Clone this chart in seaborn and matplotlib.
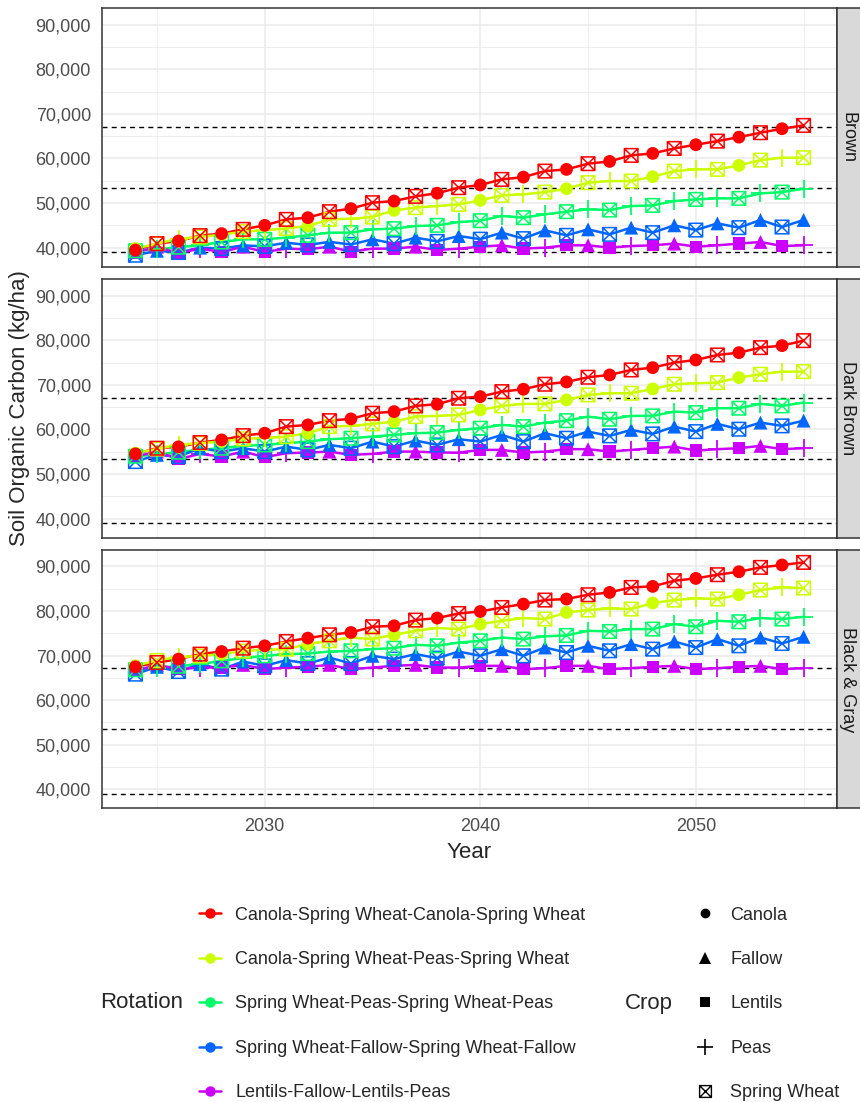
import matplotlib
matplotlib.use("Agg")
import matplotlib.pyplot as plt
from matplotlib.lines import Line2D
from matplotlib.markers import MarkerStyle
from matplotlib.path import Path
from matplotlib.ticker import FuncFormatter, MultipleLocator
import pandas as pd
import seaborn as sns

sns.set_style("white")
plt.rcParams["font.family"] = ["Liberation Sans", "DejaVu Sans"]

# ---------------------------------------------------------------- data
years = list(range(2024, 2056))
zones = ["Brown", "Dark Brown", "Black & Gray"]
rotations = [
    "Canola-Spring Wheat-Canola-Spring Wheat",
    "Canola-Spring Wheat-Peas-Spring Wheat",
    "Spring Wheat-Peas-Spring Wheat-Peas",
    "Spring Wheat-Fallow-Spring Wheat-Fallow",
    "Lentils-Fallow-Lentils-Peas",
]
rotation_colors = ["#FF0000", "#CCFF00", "#00FF66", "#0066FF", "#CC00FF"]
crops = ["Canola", "Fallow", "Lentils", "Peas", "Spring Wheat"]
baseline_soc = [39000, 53450, 67100]

# Soil organic carbon (kg/ha), one list per zone and rotation, 2024-2055
brown_cscs = [39460, 40890, 41480, 42690, 43140, 44100, 45000, 46340, 46720, 48060, 48740,
              50080, 50440, 51500, 52200, 53440, 54050, 55300, 55810, 57160, 57540, 58820,
              59330, 60680, 61120, 62240, 63070, 63880, 64770, 65760, 66660, 67400]
brown_csps = [39800, 40900, 42000, 42400, 42900, 43600, 43900, 44300, 44840, 46340, 46500,
              46860, 48350, 48960, 49320, 49700, 50600, 51710, 51940, 52450, 53200, 54560,
              54920, 54920, 55900, 57160, 57540, 57540, 58430, 59620, 60160, 60160]
brown_spsp = [39300, 39600, 40100, 40520, 41270, 41860, 41860, 42240, 42760, 43360, 43360,
              44100, 44260, 44840, 45000, 45730, 46040, 47080, 46720, 47460, 48060, 48580,
              48420, 49320, 49470, 50440, 50820, 51040, 51040, 52160, 52450, 53200]
brown_sfsf = [38300, 39300, 38900, 40000, 39800, 40500, 40300, 41100, 40600, 41300, 40700,
              41860, 40900, 42240, 41400, 42600, 41900, 43360, 42020, 43870, 42760, 44100,
              42980, 44480, 43360, 45000, 43940, 45440, 44480, 46200, 44620, 46200]
brown_lflp = [38880, 40220, 38720, 39780, 39020, 40220, 39020, 39780, 39620, 40220, 39100,
              39780, 39780, 40220, 39460, 39780, 40220, 40520, 39780, 40000, 40520, 40520,
              40000, 40360, 40520, 40900, 40220, 40520, 40900, 41270, 40360, 40520]

darkbrown_cscs = [54520, 55790, 56100, 57050, 57650, 58610, 59150, 60630, 61010, 61970, 62360,
                  63630, 63990, 65270, 65650, 66990, 67350, 68470, 69010, 70130, 70640, 71700,
                  72210, 73330, 73850, 74970, 75570, 76690, 77210, 78330, 78780, 79900]
darkbrown_csps = [54700, 55600, 56600, 56900, 57300, 57900, 58100, 58390, 59150, 60630, 60790,
                  61240, 61760, 62870, 63030, 63250, 64370, 65270, 65720, 65720, 66610, 67730,
                  68110, 68110, 69080, 70130, 70350, 70490, 71610, 72370, 72960, 72960]
darkbrown_spsp = [54000, 54400, 54900, 55410, 55790, 56310, 56530, 56910, 57270, 57810, 58030,
                  58390, 58770, 59150, 59290, 59890, 60270, 61010, 60630, 61530, 61970, 62870,
                  62290, 63030, 63030, 63990, 63770, 64750, 64750, 65720, 65270, 66010]
darkbrown_sfsf = [52790, 54290, 53910, 55790, 55030, 55790, 55030, 56150, 55410, 56530, 55790,
                  57270, 56150, 57500, 56530, 57810, 57270, 58770, 57270, 59150, 58030, 59510,
                  58550, 59890, 58990, 60630, 59510, 61240, 60050, 61530, 60790, 61970]
darkbrown_lflp = [53910, 55030, 53330, 54520, 53910, 55030, 53780, 54670, 54810, 55030, 54290,
                  54520, 55030, 55030, 54810, 54810, 55410, 55410, 54810, 55030, 55570, 55570,
                  55030, 55410, 55790, 56150, 55250, 55570, 55790, 56310, 55570, 55790]

blackgray_cscs = [67460, 68420, 69190, 70310, 70890, 71650, 72170, 73140, 73900, 74640, 75160,
                  76440, 76660, 77940, 78390, 79420, 79870, 80770, 81530, 82430, 82660, 83620,
                  84140, 85260, 85490, 86760, 87280, 88110, 88780, 89750, 90290, 90870]
blackgray_csps = [67700, 68900, 69700, 69900, 70300, 71000, 71300, 71430, 72550, 73290, 74030,
                  73680, 74640, 75540, 76150, 75920, 77040, 77780, 78390, 78170, 79650, 80190,
                  80540, 80410, 81760, 82430, 82790, 82660, 83620, 84680, 85260, 85120]
blackgray_spsp = [66800, 67300, 67600, 68060, 68800, 69410, 69930, 70310, 70440, 70890, 71050,
                  71430, 71650, 72400, 72170, 72910, 73290, 74030, 73680, 74300, 74500, 75540,
                  75390, 75920, 75920, 77040, 76440, 77780, 77560, 78390, 78170, 78680]
blackgray_sfsf = [65820, 67460, 66400, 68060, 66940, 68650, 67680, 68960, 68200, 69540, 68200,
                  69930, 69190, 70310, 69410, 70890, 69930, 71430, 69930, 71790, 70670, 72170,
                  71050, 72550, 71430, 73140, 71790, 73680, 72170, 74030, 72690, 74190]
blackgray_lflp = [66560, 67900, 66940, 67300, 67300, 67900, 66940, 67300, 67460, 67900, 66940,
                  67300, 67680, 67900, 67300, 67300, 67680, 67680, 66940, 67160, 67680, 67680,
                  66940, 67160, 67460, 67680, 66940, 67160, 67460, 67680, 66940, 67160]

zone_series = {
    "Brown": [brown_cscs, brown_csps, brown_spsp, brown_sfsf, brown_lflp],
    "Dark Brown": [darkbrown_cscs, darkbrown_csps, darkbrown_spsp, darkbrown_sfsf, darkbrown_lflp],
    "Black & Gray": [blackgray_cscs, blackgray_csps, blackgray_spsp, blackgray_sfsf, blackgray_lflp],
}

# long table: the crop grown each year follows the 4-year rotation sequence
rows = []
for zone in zones:
    for rot, values in zip(rotations, zone_series[zone]):
        sequence = [c.strip() for c in rot.split("-")]
        for i, (yr, v) in enumerate(zip(years, values)):
            rows.append({"Zone": zone, "Rotation": rot, "Crop": sequence[i % 4],
                         "Year": yr, "SOC": v})
df = pd.DataFrame(rows)

# ---------------------------------------------------------------- styling
boxed_x = MarkerStyle(
    Path([(-1, -1), (1, -1), (1, 1), (-1, 1), (-1, -1), (1, 1), (-1, 1), (1, -1)],
         [Path.MOVETO, Path.LINETO, Path.LINETO, Path.LINETO, Path.CLOSEPOLY,
          Path.LINETO, Path.MOVETO, Path.LINETO]),
    fillstyle="none")
crop_marker = {"Canola": "o", "Fallow": "^", "Lentils": "s", "Peas": "+", "Spring Wheat": boxed_x}
crop_size = {"Canola": 85, "Fallow": 100, "Lentils": 78, "Peas": 165, "Spring Wheat": 95}
crop_lw = {"Canola": 0, "Fallow": 0, "Lentils": 0, "Peas": 1.3, "Spring Wheat": 1.1}
color_of = dict(zip(rotations, rotation_colors))

W, H = 860, 1102
fig = plt.figure(figsize=(W / 100, H / 100), dpi=100)


def px_axes(left, top, right, bottom):
    return fig.add_axes([left / W, 1 - bottom / H, (right - left) / W, (bottom - top) / H])


panel_left, panel_right = 102, 837
panel_tops = [8.3, 279.3, 550.0]
panel_h = 258.3
grid_col = "#EBEBEB"
frame_col = "#333333"

for k, zone in enumerate(zones):
    top = panel_tops[k]
    ax = px_axes(panel_left, top, panel_right, top + panel_h)
    sub = df[df["Zone"] == zone]

    ax.set_axisbelow(True)
    ax.xaxis.set_major_locator(MultipleLocator(10))
    ax.xaxis.set_minor_locator(MultipleLocator(5))
    ax.yaxis.set_major_locator(MultipleLocator(10000))
    ax.yaxis.set_minor_locator(MultipleLocator(5000))
    ax.grid(which="major", color=grid_col, lw=1.15)
    ax.grid(which="minor", color=grid_col, lw=0.6)

    for yb in baseline_soc:
        ax.axhline(yb, color="black", lw=1.0, ls=(0, (3.6, 3.0)), zorder=1.5)

    sns.lineplot(data=sub, x="Year", y="SOC", hue="Rotation", hue_order=rotations,
                 palette=rotation_colors, linewidth=1.8, errorbar=None, legend=False,
                 ax=ax, zorder=2)

    for rot in rotations[::-1]:
        for crop in crops:
            pts = sub[(sub["Rotation"] == rot) & (sub["Crop"] == crop)]
            if pts.empty:
                continue
            kws = dict(marker=crop_marker[crop], s=crop_size[crop], color=color_of[rot],
                       linewidth=crop_lw[crop], legend=False, ax=ax, zorder=3)
            if crop_lw[crop] == 0:
                kws["edgecolor"] = "none"
            sns.scatterplot(data=pts, x="Year", y="SOC", **kws)

    ax.set_xlim(2022.45, 2056.55)
    ax.set_ylim(35750, 93650)
    ax.yaxis.set_major_formatter(FuncFormatter(lambda v, p: f"{v:,.0f}"))
    ax.set_xlabel("")
    ax.set_ylabel("")
    for sp in ax.spines.values():
        sp.set_color(frame_col)
        sp.set_linewidth(1.1)
    ax.tick_params(which="major", length=4, width=1.1, color=frame_col,
                   labelsize=13, labelcolor="#4D4D4D", pad=4)
    ax.tick_params(which="minor", length=0)
    if k < 2:
        ax.tick_params(axis="x", which="both", bottom=False, labelbottom=False)
    else:
        ax.tick_params(axis="x", pad=3.3)

    strip = px_axes(panel_right, top, 861, top + panel_h)
    strip.set_facecolor("#D9D9D9")
    strip.set_xticks([])
    strip.set_yticks([])
    for sp in strip.spines.values():
        sp.set_color(frame_col)
        sp.set_linewidth(1.1)
    strip.text(0.45, 0.5, zone, rotation=-90, ha="center", va="center",
               fontsize=13, color="#1A1A1A", transform=strip.transAxes)

fig.text(20 / W, 1 - 408 / H, "Soil Organic Carbon (kg/ha)", rotation=90,
         ha="center", va="center", fontsize=16)
fig.text((panel_left + panel_right) / 2 / W, 1 - 852 / H, "Year",
         ha="center", va="center", fontsize=16)

# ---------------------------------------------------------------- legends
rot_handles = [Line2D([0], [0], color=c, lw=1.8, marker="o", markersize=7.5,
                      markeredgewidth=0) for c in rotation_colors]
crop_handles = [
    Line2D([0], [0], color="black", lw=0, marker="o", markersize=7, markeredgewidth=0),
    Line2D([0], [0], color="black", lw=0, marker="^", markersize=8, markeredgewidth=0),
    Line2D([0], [0], color="black", lw=0, marker="s", markersize=7, markeredgewidth=0),
    Line2D([0], [0], color="black", lw=0, marker="+", markersize=12, markeredgewidth=1.2),
    Line2D([0], [0], color="black", lw=0, marker=boxed_x, markersize=8.5,
           markeredgewidth=1.0, fillstyle="none"),
]
leg_kw = dict(frameon=False, fontsize=13, handlelength=1.2, handletextpad=0.8,
              labelspacing=1.52, borderpad=0, borderaxespad=0, loc="center left")
leg1 = fig.legend(rot_handles, rotations, bbox_to_anchor=(199 / W, 1 - 1004 / H), **leg_kw)
leg2 = fig.legend(crop_handles, crops, bbox_to_anchor=(694 / W, 1 - 1004 / H), **leg_kw)
fig.text(100 / W, 1 - 1003 / H, "Rotation", ha="left", va="center", fontsize=16)
fig.text(625 / W, 1 - 1003 / H, "Crop", ha="left", va="center", fontsize=16)

fig.savefig("out.png", dpi=100)
